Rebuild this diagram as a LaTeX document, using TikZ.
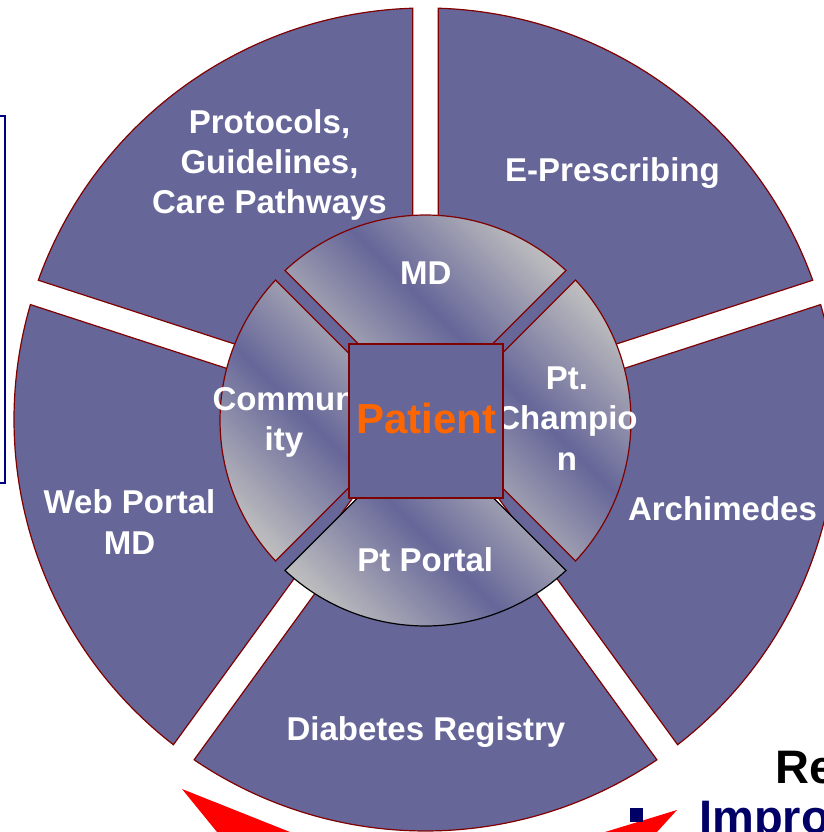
\documentclass[tikz,border=0pt]{standalone}
\usepackage{fontspec}
\setmainfont{Liberation Sans}
\definecolor{segpurple}{RGB}{102,102,153}
\definecolor{segline}{RGB}{128,0,0}
\definecolor{ringgray}{RGB}{192,192,192}
\definecolor{patientorange}{RGB}{255,102,0}
\definecolor{framenavy}{RGB}{0,0,128}
\definecolor{bulletnavy}{RGB}{0,0,102}
\definecolor{arrowred}{RGB}{255,0,0}

\begin{document}
\begin{tikzpicture}[x=1pt,y=1pt,
  % pie piece between rays #2 and #3 around #1, radius #4, half gap #5
  wedge/.style n args={5}{insert path={
    ([shift={({(#2+#3)/2}:{#5/sin((#3-#2)/2)})}]#1)
    -- ([shift={({#2+asin(#5/#4)}:#4)}]#1)
    arc[start angle={#2+asin(#5/#4)}, end angle={#3-asin(#5/#4)}, radius=#4]
    -- cycle}},
  outerseg/.style={fill=segpurple, draw=segline, line width=1.2pt, line join=miter},
  innerseg/.style={top color=ringgray, bottom color=ringgray, middle color=segpurple,
    shading angle=-45, draw=segline, line width=1.2pt},
  % anchored at the baseline of the last line
  seglabel/.style={text=white, font=\fontsize{33}{40}\selectfont\bfseries,
    align=center, inner sep=0pt, anchor=base},
]
\useasboundingbox (0,0) rectangle (823,-832);

% frame partly outside on the left
\draw[framenavy, line width=1.2pt] (-20,-116) rectangle (5,-483);

\coordinate (C) at (425.5,-419.5);
\coordinate (Ci) at (425.5,-420.5);

% outer ring of five pieces
\draw[outerseg, wedge={C}{90}{162}{411.5}{12.8}];
\draw[outerseg, wedge={C}{18}{90}{411.5}{12.8}];
\draw[outerseg, wedge={C}{-54}{18}{411.5}{12.8}];
\draw[outerseg, wedge={C}{-126}{-54}{411.5}{12.8}];
\draw[outerseg, wedge={C}{162}{234}{411.5}{12.8}];

\node[seglabel] (protocols) at (269.5,-213) {Protocols,\\Guidelines,\\Care Pathways};
\node[seglabel] (eprescribing) at (612.5,-181.7) {E-Prescribing};
\node[seglabel] (archimedes) at (722.5,-520) {Archimedes};
\node[seglabel] (registry) at (426,-740) {Diabetes Registry};
\node[seglabel, font=\fontsize{33}{40.7}\selectfont\bfseries] (webportal) at (129.5,-554) {Web Portal\\MD};

% inner ring of four pieces
\draw[innerseg, wedge={Ci}{45}{135}{205.5}{6.7}];
\draw[innerseg, wedge={Ci}{135}{225}{205.5}{6.7}];
\draw[innerseg, wedge={Ci}{-45}{45}{205.5}{6.7}];
\draw[innerseg, draw=black, wedge={Ci}{225}{315}{205.5}{6.7}];

\node[seglabel] (md) at (425.7,-284) {MD};
\node[seglabel] (ptportal) at (425.3,-571.7) {Pt Portal};
\node[seglabel, font=\fontsize{33}{39.5}\selectfont\bfseries] (community) at (284,-450.2) {Commun\\ity};
\node[seglabel, font=\fontsize{33}{40.5}\selectfont\bfseries] (champion) at (567,-470) {Pt.\\Champio\\n};

% centre square
\node[draw=segline, fill=segpurple, line width=1.6pt, minimum size=154pt, inner sep=0pt] (patientbox) at (426,-421) {};
\node[text=patientorange, font=\fontsize{42}{50}\selectfont\bfseries, inner sep=0pt, anchor=base] (patient) at (426.3,-433) {Patient};

% arrow heads at the bottom edge
\fill[arrowred] (182,-789) -- (360.3,-860) -- (239.8,-860) -- cycle;
\fill[arrowred] (677,-810) -- (513.4,-860) -- (631.5,-860) -- cycle;

% heading and bullet in the lower right corner
\node[anchor=base west, inner sep=0pt, font=\fontsize{47}{56}\selectfont\bfseries] (heading) at (774.9,-783.3) {Re};
\fill[bulletnavy] (630,-808.3) rectangle (643.3,-821.7);
\node[anchor=base west, inner sep=0pt, text=bulletnavy, font=\fontsize{47}{56}\selectfont\bfseries] (bullettext) at (699,-833.7) {Impro};
\end{tikzpicture}
\end{document}
